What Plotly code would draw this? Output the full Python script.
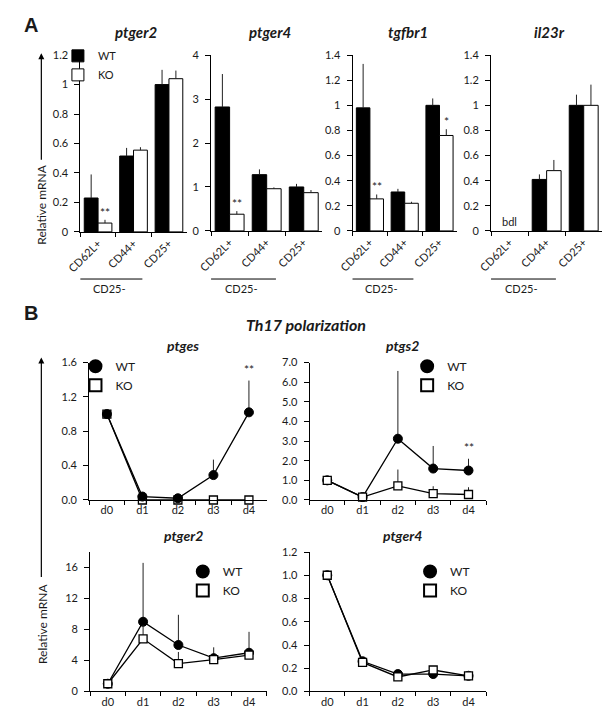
import plotly.graph_objects as go

W, H = 612, 724
FONT = "Lato, Carlito, 'Open Sans', sans-serif"
INK = "#1a1a1a"


def px(x):
    return x / W


def py(y):
    return 1 - y / H


# ---------------- Panel A data ----------------
cells = ["CD62L+", "CD44+", "CD25+"]

ptger2_wt = [0.23, 0.515, 1.0]
ptger2_wt_err = [0.16, 0.055, 0.10]
ptger2_ko = [0.06, 0.555, 1.04]
ptger2_ko_err = [0.022, 0.02, 0.055]

ptger4_wt = [2.82, 1.28, 1.0]
ptger4_wt_err = [0.75, 0.12, 0.07]
ptger4_ko = [0.38, 0.96, 0.87]
ptger4_ko_err = [0.07, 0.03, 0.06]

tgfbr1_wt = [0.98, 0.31, 1.0]
tgfbr1_wt_err = [0.35, 0.025, 0.055]
tgfbr1_ko = [0.255, 0.22, 0.76]
tgfbr1_ko_err = [0.035, 0.012, 0.05]

il23r_wt = [None, 0.41, 1.0]
il23r_wt_err = [0, 0.04, 0.085]
il23r_ko = [None, 0.48, 1.0]
il23r_ko_err = [0, 0.085, 0.165]

# ---------------- Panel B data ----------------
days = ["d0", "d1", "d2", "d3", "d4"]

ptges_wt = [1.0, 0.04, 0.02, 0.29, 1.02]
ptges_wt_err = [0, 0, 0, 0.18, 0.37]
ptges_ko = [1.0, 0.0, 0.0, 0.0, 0.0]
ptges_ko_err = [0, 0, 0, 0, 0]

ptgs2_wt = [1.0, 0.15, 3.12, 1.6, 1.5]
ptgs2_wt_err = [0, 0, 3.45, 1.15, 0.6]
ptgs2_ko = [1.0, 0.15, 0.72, 0.32, 0.28]
ptgs2_ko_err = [0, 0, 0.83, 0.38, 0.37]

ptger2b_wt = [1.0, 9.0, 6.0, 4.3, 5.0]
ptger2b_wt_err = [0, 7.6, 3.9, 1.4, 2.7]
ptger2b_ko = [1.0, 6.8, 3.6, 4.1, 4.7]
ptger2b_ko_err = [0, 1.8, 1.5, 0.4, 0.4]

ptger4b_wt = [1.0, 0.26, 0.15, 0.15, 0.135]
ptger4b_wt_err = [0, 0.03, 0.02, 0.02, 0.02]
ptger4b_ko = [1.0, 0.25, 0.125, 0.185, 0.135]
ptger4b_ko_err = [0, 0.02, 0.01, 0.025, 0.015]

fig = go.Figure()

# ---------------- Panel A bars ----------------
bar_panels = [
    ("ptger2", ptger2_wt, ptger2_wt_err, ptger2_ko, ptger2_ko_err, (67, 176), 1.2, 0.2, 49, 229),
    ("ptger4", ptger4_wt, ptger4_wt_err, ptger4_ko, ptger4_ko_err, (201, 315), 4, 1, 49, 228),
    ("tgfbr1", tgfbr1_wt, tgfbr1_wt_err, tgfbr1_ko, tgfbr1_ko_err, (346, 453), 1.4, 0.2, 49, 228),
    ("il23r", il23r_wt, il23r_wt_err, il23r_ko, il23r_ko_err, (488, 602), 1.4, 0.2, 49, 228),
]

layout_axes = {}
annotations = []
shapes = []

for i, (title, wt, wte, ko, koe, (x0, x1), ymax, dt, ytop, ybot) in enumerate(bar_panels, start=1):
    xa = "x" if i == 1 else f"x{i}"
    ya = "y" if i == 1 else f"y{i}"
    for name, vals, errs, fill in (("WT", wt, wte, "black"), ("KO", ko, koe, "white")):
        fig.add_trace(go.Bar(
            x=cells, y=vals, name=name, xaxis=xa, yaxis=ya,
            marker=dict(color=fill, line=dict(color="black", width=1)),
            error_y=dict(type="data", symmetric=False, array=errs,
                         arrayminus=[0] * len(errs), color="#222", thickness=1, width=0),
            showlegend=(i == 1), legend="legend",
        ))
    layout_axes[f"xaxis{i if i > 1 else ''}"] = dict(
        domain=[px(x0), px(x1)], anchor=ya, type="category", range=[-0.5, 2.5],
        showline=True, linecolor="black", linewidth=1, ticks="outside", tickson="boundaries",
        ticklen=4, tickcolor="black", showgrid=False, zeroline=False, tickangle=-45,
        tickfont=dict(family=FONT, size=11, color=INK), fixedrange=True,
    )
    layout_axes[f"yaxis{i if i > 1 else ''}"] = dict(
        domain=[py(ybot), py(ytop)], anchor=xa, range=[0, ymax], dtick=dt,
        showline=True, linecolor="black", linewidth=1, ticks="outside", ticklen=5,
        tickcolor="black", showgrid=False, zeroline=False, ticklabelstandoff=4,
        tickfont=dict(family=FONT, size=11, color=INK),
    )
    annotations.append(dict(
        text=f"<b><i>{title}</i></b>", xref="paper", yref="paper",
        x=px((x0 + x1) / 2 + 3), y=py(25), showarrow=False,
        font=dict(family=FONT, size=15, color=INK), xanchor="center", yanchor="middle",
    ))
    shapes.append(dict(type="line", xref=xa, yref="paper", x0=-0.6, x1=1.25,
                       y0=py(277), y1=py(277), line=dict(color="black", width=1)))
    annotations.append(dict(
        text="CD25-", xref=xa, yref="paper", x=0.33, y=py(287), showarrow=False,
        font=dict(family=FONT, size=11, color=INK), xanchor="center", yanchor="middle",
    ))

ko_off = 0.195
stars_a = [
    ("x", "y", 0, "**", ptger2_ko[0] + ptger2_ko_err[0]),
    ("x2", "y2", 0, "**", ptger4_ko[0] + ptger4_ko_err[0]),
    ("x3", "y3", 0, "**", tgfbr1_ko[0] + tgfbr1_ko_err[0]),
    ("x3", "y3", 2, "*", tgfbr1_ko[2] + tgfbr1_ko_err[2]),
]
for xa, ya, idx, s, top in stars_a:
    annotations.append(dict(
        text=s, xref=xa, yref=ya, x=idx + ko_off, y=top, showarrow=False,
        xanchor="center", yanchor="bottom", yshift=-2,
        font=dict(family=FONT, size=12, color=INK),
    ))
annotations.append(dict(
    text="bdl", xref="x4", yref="y4", x=0, y=0, showarrow=False,
    xanchor="center", yanchor="bottom", yshift=1,
    font=dict(family=FONT, size=11, color=INK),
))

# ---------------- Panel B lines ----------------
line_panels = [
    ("ptges", ptges_wt, ptges_wt_err, ptges_ko, ptges_ko_err, (76, 258), 1.6, 0.4, ".1f", 362, 502, True),
    ("ptgs2", ptgs2_wt, ptgs2_wt_err, ptgs2_ko, ptgs2_ko_err, (302, 483), 7, 1, ".1f", 362, 502, False),
    ("ptger2", ptger2b_wt, ptger2b_wt_err, ptger2b_ko, ptger2b_ko_err, (77, 258), 18, 4, "d", 555, 697, False),
    ("ptger4", ptger4b_wt, ptger4b_wt_err, ptger4b_ko, ptger4b_ko_err, (302, 483), 1.2, 0.2, ".1f", 555, 697, False),
]
legend_pos = [(62, 351), (402, 351), (172, 560), (405, 560)]

for j, (title, wt, wte, ko, koe, (x0, x1), ymax, dt, fmt, ytop, ybot, wt_on_top) in enumerate(line_panels):
    i = j + 5
    xa, ya = f"x{i}", f"y{i}"
    lg = f"legend{j + 2}"
    for vals in (wt, ko):
        fig.add_trace(go.Scatter(
            x=days, y=vals, mode="lines", xaxis=xa, yaxis=ya, showlegend=False,
            line=dict(color="black", width=1.3), cliponaxis=False, hoverinfo="skip",
        ))
    wt_tr = go.Scatter(
        x=days, y=wt, mode="markers", name="WT", xaxis=xa, yaxis=ya, legend=lg, legendrank=1,
        marker=dict(symbol="circle", size=9, color="black", line=dict(color="black", width=1)),
        error_y=dict(type="data", symmetric=False, array=wte, arrayminus=[0] * len(wte),
                     color="#222", thickness=1, width=0),
        cliponaxis=False,
    )
    ko_tr = go.Scatter(
        x=days, y=ko, mode="markers", name="KO", xaxis=xa, yaxis=ya, legend=lg, legendrank=2,
        marker=dict(symbol="square", size=8, color="white", line=dict(color="black", width=1.3)),
        error_y=dict(type="data", symmetric=False, array=koe, arrayminus=[0] * len(koe),
                     color="#222", thickness=1, width=0),
        cliponaxis=False,
    )
    if wt_on_top:
        fig.add_trace(ko_tr)
        fig.add_trace(wt_tr)
    else:
        fig.add_trace(wt_tr)
        fig.add_trace(ko_tr)

    layout_axes[f"xaxis{i}"] = dict(
        domain=[px(x0), px(x1)], anchor=ya, type="category", range=[-0.5, 4.5],
        showline=True, linecolor="black", linewidth=1, ticks="outside", tickson="boundaries",
        ticklen=4, tickcolor="black", showgrid=False, zeroline=False,
        tickfont=dict(family=FONT, size=11, color=INK),
    )
    layout_axes[f"yaxis{i}"] = dict(
        domain=[py(ybot), py(ytop)], anchor=xa, range=[0, ymax], dtick=dt, tickformat=fmt,
        showline=True, linecolor="black", linewidth=1, ticks="outside", ticklen=5,
        tickcolor="black", showgrid=False, zeroline=False, ticklabelstandoff=4,
        tickfont=dict(family=FONT, size=11, color=INK),
    )
    annotations.append(dict(
        text=f"<b><i>{title}</i></b>", xref="paper", yref="paper",
        x=px((x0 + x1) / 2 + 5), y=py(ytop - 17), showarrow=False,
        font=dict(family=FONT, size=14, color=INK), xanchor="center", yanchor="middle",
    ))
    lx, ly = legend_pos[j]
    layout_axes[lg] = dict(
        x=px(lx), y=py(ly), xanchor="left", yanchor="top", bgcolor="rgba(0,0,0,0)",
        font=dict(family=FONT, size=12, color=INK), itemsizing="constant",
        tracegroupgap=0, traceorder="normal",
    )

annotations.append(dict(text="**", xref="x5", yref="y5", x=4, y=ptges_wt[4] + ptges_wt_err[4],
                        showarrow=False, xanchor="center", yanchor="bottom", yshift=2,
                        font=dict(family=FONT, size=12, color=INK)))
annotations.append(dict(text="**", xref="x6", yref="y6", x=4, y=ptgs2_wt[4] + ptgs2_wt_err[4],
                        showarrow=False, xanchor="center", yanchor="bottom", yshift=2,
                        font=dict(family=FONT, size=12, color=INK)))

annotations += [
    dict(text="<b>A</b>", xref="paper", yref="paper", x=px(7), y=py(18), showarrow=False,
         xanchor="left", yanchor="middle", font=dict(family="Liberation Sans, Arial", size=20, color=INK)),
    dict(text="<b>B</b>", xref="paper", yref="paper", x=px(7), y=py(312), showarrow=False,
         xanchor="left", yanchor="middle", font=dict(family="Liberation Sans, Arial", size=20, color=INK)),
    dict(text="<b><i>Th17 polarization</i></b>", xref="paper", yref="paper", x=px(298), y=py(323),
         showarrow=False, xanchor="center", yanchor="middle",
         font=dict(family=FONT, size=16, color=INK)),
    dict(text="Relative mRNA", xref="paper", yref="paper", x=px(27), y=py(201), textangle=-90,
         showarrow=False, xanchor="center", yanchor="middle", font=dict(family=FONT, size=12, color=INK)),
    dict(text="Relative mRNA", xref="paper", yref="paper", x=px(28), y=py(628), textangle=-90,
         showarrow=False, xanchor="center", yanchor="middle", font=dict(family=FONT, size=12, color=INK)),
    dict(text="", xref="paper", yref="paper", x=px(27), y=py(47), ax=0, ay=108,
         showarrow=True, arrowhead=2, arrowsize=1, arrowwidth=1.2, arrowcolor="black"),
    dict(text="", xref="paper", yref="paper", x=px(27), y=py(357), ax=0, ay=221,
         showarrow=True, arrowhead=2, arrowsize=1, arrowwidth=1.2, arrowcolor="black"),
]

fig.update_layout(
    width=W, height=H, margin=dict(l=0, r=0, t=0, b=0),
    paper_bgcolor="white", plot_bgcolor="white",
    barmode="group", bargap=0.22, bargroupgap=0,
    font=dict(family=FONT, color=INK),
    legend=dict(x=px(44), y=py(35), xanchor="left", yanchor="top", bgcolor="rgba(0,0,0,0)",
                font=dict(family=FONT, size=11, color=INK), tracegroupgap=0, traceorder="normal"),
    annotations=annotations, shapes=shapes,
    **layout_axes,
)

fig.write_html("out.html", config={"displayModeBar": False},
               post_script="document.body.style.margin='0';")
